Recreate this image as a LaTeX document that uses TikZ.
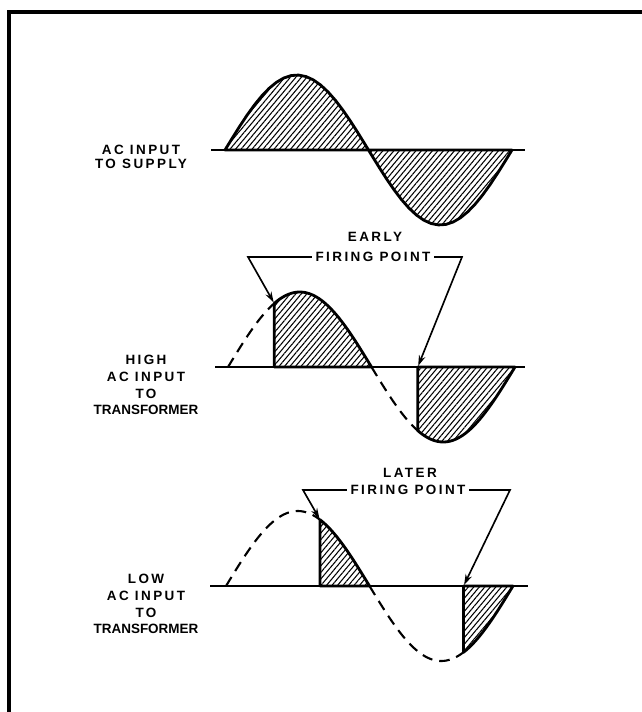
\documentclass[tikz,border=0pt]{standalone}
\usepackage{fontspec}
\setmainfont{Liberation Sans}
\usetikzlibrary{arrows.meta,positioning,patterns.meta}
\tikzset{>=Stealth}
% one sine period of 287 px, amplitude 75 px: {x0}{axis}{from deg}{to deg}
\newcommand\sinecurve[4]{plot[domain=#3:#4, samples=40] ({#1+\x*0.7972}, {#2-75*sin(\x)})}
\newcommand\tight[1]{{\addfontfeature{LetterSpace=0}#1}}

\begin{document}
\begin{tikzpicture}[x=0.3mm, y=-0.3mm,
    lbl/.style={align=center, inner sep=0pt, font=\fontsize{11.5}{14.4}\selectfont\bfseries\addfontfeature{LetterSpace=18}},
    wave/.style={line width=2.4pt, line join=round},
    ghost/.style={line width=1.8pt, dash pattern=on 9pt off 6pt},
    base/.style={line width=2pt},
    hatch/.style={pattern={Lines[angle=50, distance=3.6pt, line width=0.9pt]}},
    lead/.style={line width=1.4pt, -{Stealth[length=3.2mm, width=2mm]}, shorten >=1pt},
    every node/.style={lbl}
  ]
    \useasboundingbox (0,0) rectangle (642,712);
    \draw[line width=2.6pt] (9,712) -- (9,12) -- (642,12);

    % full sine
    \draw[base] (211,150) -- (525,150);
    \draw[wave, hatch] \sinecurve{225}{150}{0}{360} -- cycle;
    \node (supply) at (141,157) {AC INPUT\\[-2.4pt]TO SUPPLY};

    % high input, early firing
    \coordinate (hiA) at ({228+58*0.7972}, {367-75*sin(58)});
    \coordinate (hiB) at ({228+238*0.7972}, 367);
    \draw[base] (215,367) -- (525,367);
    \draw[ghost] \sinecurve{228}{367}{0}{58};
    \draw[ghost] \sinecurve{228}{367}{180}{238};
    \draw[wave, hatch] \sinecurve{228}{367}{58}{180} -- (hiA |- hiB) -- cycle;
    \draw[wave, hatch] \sinecurve{228}{367}{238}{360} -- (hiB) -- cycle;
    \node (high) at (146,385) {HIGH\\AC INPUT\\TO\\\tight{TRANSFORMER}};

    \node (early) at (375,237) {EARLY};
    \node[inner xsep=3pt] (fpE) at (373,257) {FIRING POINT};
    \coordinate (eL) at (248,257);
    \coordinate (eR) at (462,257);
    \draw[lead] (fpE.west) -- (eL) -- (hiA);
    \draw[lead] (fpE.east) -- (eR) -- (hiB);

    % low input, later firing
    \coordinate (loA) at ({226+118*0.7972}, {586-75*sin(118)});
    \coordinate (loB) at ({226+298*0.7972}, 586);
    \draw[base] (210,586) -- (528,586);
    \draw[ghost] \sinecurve{226}{586}{0}{118};
    \draw[ghost] \sinecurve{226}{586}{180}{298};
    \draw[wave, hatch] \sinecurve{226}{586}{118}{180} -- (loA |- loB) -- cycle;
    \draw[wave, hatch] \sinecurve{226}{586}{298}{360} -- (loB) -- cycle;
    \node (low) at (146,604) {LOW\\AC INPUT\\TO\\\tight{TRANSFORMER}};

    \node (later) at (410,473) {LATER};
    \node[inner xsep=3pt] (fpL) at (408,490) {FIRING POINT};
    \coordinate (lL) at (303,490);
    \coordinate (lR) at (510,490);
    \draw[lead] (fpL.west) -- (lL) -- (loA);
    \draw[lead] (fpL.east) -- (lR) -- (loB);
  \end{tikzpicture}
\end{document}
